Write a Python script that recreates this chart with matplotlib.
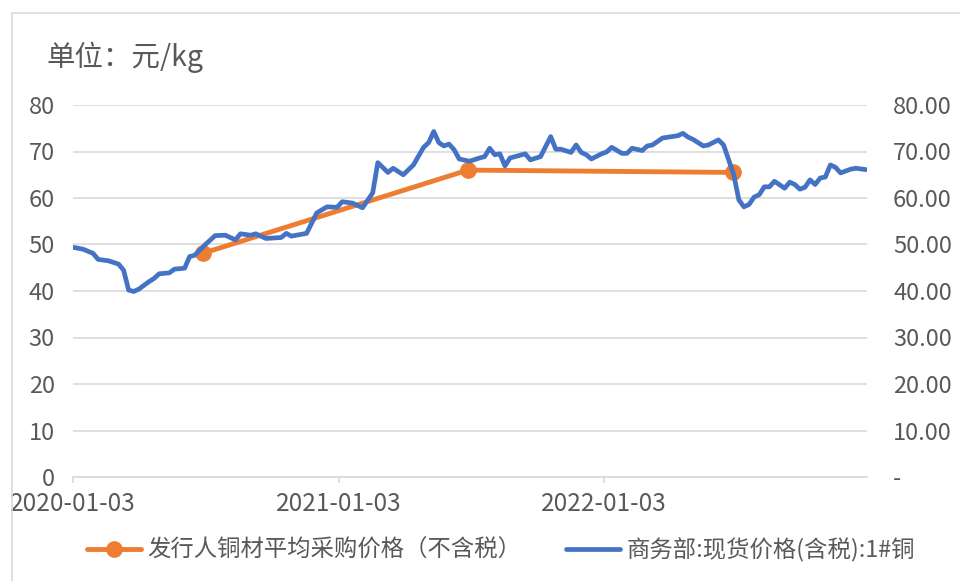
import matplotlib
matplotlib.use("Agg")
import matplotlib.pyplot as plt
import matplotlib.dates as mdates
from matplotlib.lines import Line2D
from matplotlib.ticker import FuncFormatter
import pandas as pd

plt.rcParams['font.family'] = ['Noto Sans CJK SC', 'DejaVu Sans']

# input data
spot_dates = [
    "2020-01-03", "2020-01-17", "2020-01-31", "2020-02-07", "2020-02-21", "2020-03-06",
    "2020-03-13", "2020-03-20", "2020-03-27", "2020-04-03", "2020-04-17", "2020-04-24",
    "2020-05-01", "2020-05-15", "2020-05-22", "2020-06-05", "2020-06-12", "2020-06-19",
    "2020-07-03", "2020-07-17", "2020-07-31", "2020-08-14", "2020-08-21", "2020-09-04",
    "2020-09-11", "2020-09-25", "2020-10-16", "2020-10-23", "2020-10-30", "2020-11-20",
    "2020-11-27", "2020-12-04", "2020-12-18", "2021-01-01", "2021-01-08", "2021-01-22",
    "2021-02-05", "2021-02-19", "2021-02-26", "2021-03-12", "2021-03-19", "2021-04-02",
    "2021-04-16", "2021-04-30", "2021-05-07", "2021-05-14", "2021-05-21", "2021-05-28",
    "2021-06-04", "2021-06-11", "2021-06-18", "2021-07-02", "2021-07-16", "2021-07-23",
    "2021-07-30", "2021-08-06", "2021-08-13", "2021-08-20", "2021-08-27", "2021-09-03",
    "2021-09-17", "2021-09-24", "2021-10-08", "2021-10-22", "2021-10-29", "2021-11-05",
    "2021-11-19", "2021-11-26", "2021-12-03", "2021-12-10", "2021-12-17", "2021-12-31",
    "2022-01-07", "2022-01-14", "2022-01-28", "2022-02-04", "2022-02-11", "2022-02-25",
    "2022-03-04", "2022-03-11", "2022-03-25", "2022-04-15", "2022-04-22", "2022-04-29",
    "2022-05-06", "2022-05-20", "2022-05-27", "2022-06-10", "2022-06-17", "2022-06-24",
    "2022-07-01", "2022-07-08", "2022-07-15", "2022-07-22", "2022-07-29", "2022-08-05",
    "2022-08-12", "2022-08-19", "2022-08-26", "2022-09-09", "2022-09-16", "2022-09-23",
    "2022-09-30", "2022-10-07", "2022-10-14", "2022-10-21", "2022-10-28", "2022-11-04",
    "2022-11-11", "2022-11-18", "2022-11-25", "2022-12-09", "2022-12-16", "2022-12-30",
]
spot_price = [
    49.4, 49.0, 48.1, 46.8, 46.5, 45.8,
    44.5, 40.2, 39.9, 40.4, 42.0, 42.7,
    43.7, 43.9, 44.7, 44.9, 47.4, 47.7,
    49.9, 51.9, 52.0, 51.0, 52.3, 52.0,
    52.3, 51.3, 51.5, 52.4, 51.8, 52.4,
    54.6, 56.8, 58.1, 58.0, 59.2, 58.9,
    57.9, 61.1, 67.6, 65.5, 66.4, 65.0,
    67.1, 70.9, 71.9, 74.3, 71.9, 71.2,
    71.6, 70.4, 68.4, 67.9, 68.6, 68.9,
    70.7, 69.3, 69.5, 66.9, 68.6, 68.9,
    69.5, 68.2, 68.9, 73.2, 70.5, 70.5,
    69.8, 71.4, 69.8, 69.3, 68.4, 69.5,
    69.9, 70.9, 69.6, 69.6, 70.7, 70.2,
    71.2, 71.4, 72.9, 73.4, 73.9, 73.1,
    72.6, 71.2, 71.4, 72.5, 71.4, 68.2,
    65.0, 59.6, 58.1, 58.6, 60.2, 60.7,
    62.4, 62.4, 63.6, 62.1, 63.4, 62.9,
    61.9, 62.3, 63.9, 62.9, 64.3, 64.5,
    67.1, 66.6, 65.4, 66.2, 66.4, 66.1,
]
buy_dates = ["2020-06-30", "2021-06-30", "2022-06-30"]
buy_price = [48.1, 66.0, 65.5]

tick_dates = ["2020-01-03", "2021-01-03", "2022-01-03"]
y_ticks = [0, 10, 20, 30, 40, 50, 60, 70, 80]

buy_label = "发行人铜材平均采购价格（不含税）"
spot_label = "商务部:现货价格(含税):1#铜"
unit_text = "单位：元/kg"

orange = '#ED7D31'
blue = '#4472C4'
grey_txt = '#595959'
grid_c = '#D9D9D9'

fig = plt.figure(figsize=(9.6, 5.81), dpi=100)
ax = fig.add_axes([72.7/960, 1-477/581, 794/960, 372/581])
ax2 = ax.twinx()

hb, = ax.plot(pd.to_datetime(buy_dates), buy_price, color=orange, linewidth=3.5,
              marker='o', markersize=11, solid_capstyle='round')
hs, = ax2.plot(pd.to_datetime(spot_dates), spot_price, color=blue, linewidth=3.4,
               solid_joinstyle='round', solid_capstyle='round')

for a in (ax, ax2):
    a.set_ylim(0, 80)
    a.set_yticks(y_ticks)
    a.set_xlim(pd.Timestamp("2020-01-03"), pd.Timestamp("2022-12-31"))
    for s in a.spines.values():
        s.set_visible(False)
    a.tick_params(axis='y', length=0, labelsize=17, labelcolor=grey_txt)

ax.spines['bottom'].set_visible(True)
ax.spines['bottom'].set_color(grid_c)
ax.spines['bottom'].set_linewidth(1.2)
ax.grid(axis='y', color=grid_c, linewidth=1.2)
ax.set_axisbelow(True)
ax.tick_params(axis='y', pad=13)
ax2.tick_params(axis='y', pad=19)
ax2.yaxis.set_major_formatter(FuncFormatter(lambda v, p: '-' if v == 0 else '%.2f' % v))

ax.set_xticks(pd.to_datetime(tick_dates))
ax.xaxis.set_major_formatter(mdates.DateFormatter('%Y-%m-%d'))
ax.tick_params(axis='x', length=4, color=grid_c, width=1.2, pad=6,
               labelsize=17.5, labelcolor=grey_txt)
ax2.tick_params(axis='x', length=0)

fig.text(46/960, 1-57/581, unit_text, fontsize=20.5, color=grey_txt, va='center', ha='left')

leg = fig.legend([hb, hs], [buy_label, spot_label], loc='center', ncol=2,
                 bbox_to_anchor=(501/960, 1-550/581), frameon=False, fontsize=16.8,
                 handlelength=2.3, handletextpad=0.3, columnspacing=1.9, labelcolor=grey_txt)

# chart border (left and top edges are visible in the picture)
fig.add_artist(Line2D([12/960, 12/960], [0, 1-12.5/581], transform=fig.transFigure,
                      color=grid_c, linewidth=1.2))
fig.add_artist(Line2D([12/960, 1], [1-12.5/581, 1-12.5/581], transform=fig.transFigure,
                      color=grid_c, linewidth=1.2))

plt.savefig('out.png', dpi=100)
